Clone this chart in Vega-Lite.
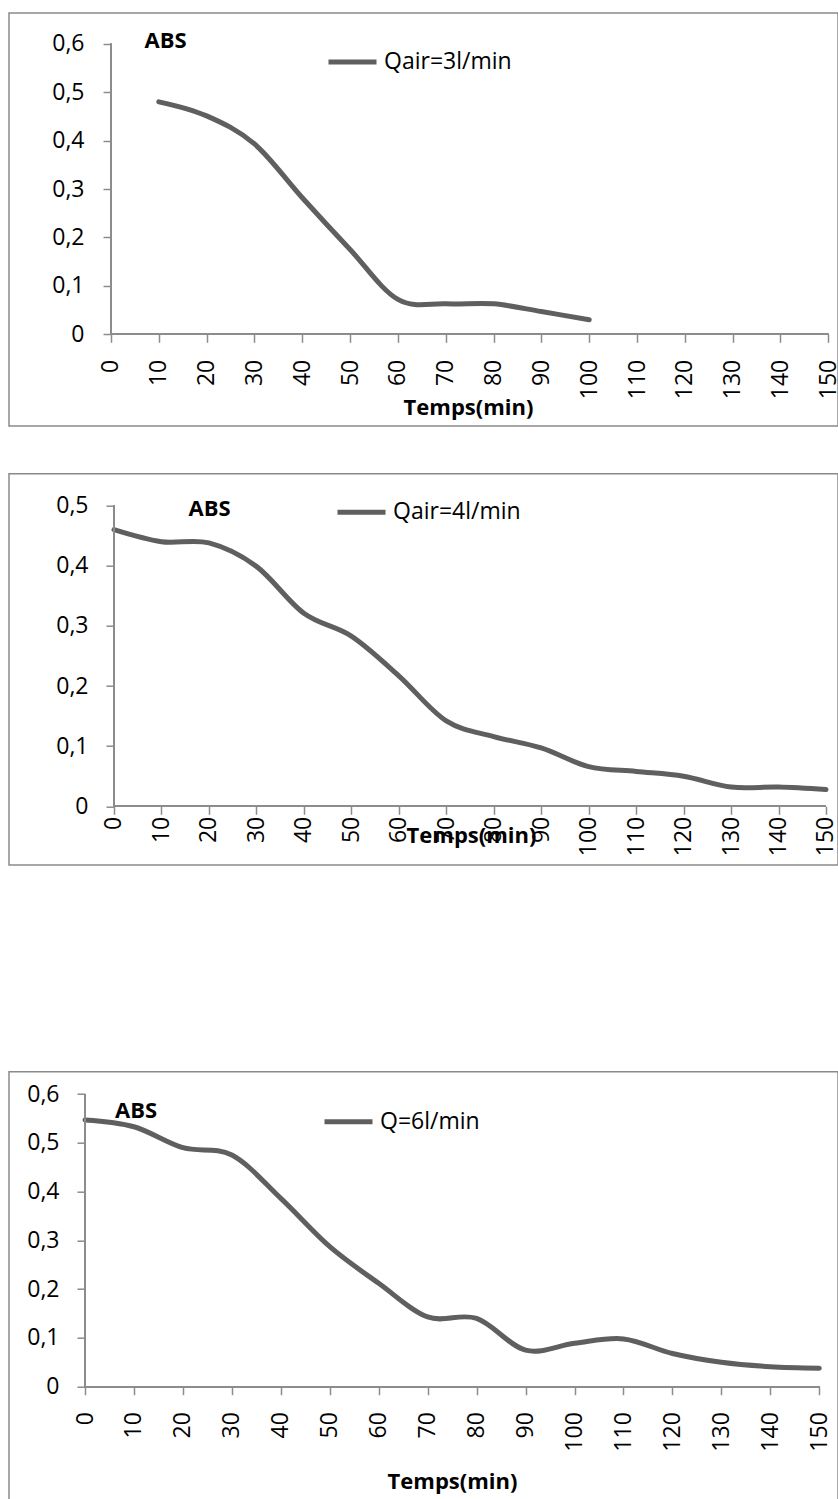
{
  "$schema": "https://vega.github.io/schema/vega-lite/v6.json",
  "autosize": {"type": "pad"},
  "padding": {"left": 8, "top": 12, "right": 0, "bottom": 0},
  "background": "white",
  "datasets": {
    "p1": [
      {"t": 10, "abs": 0.48, "serie": "Qair=3l/min"},
      {"t": 20, "abs": 0.451, "serie": "Qair=3l/min"},
      {"t": 30, "abs": 0.393, "serie": "Qair=3l/min"},
      {"t": 40, "abs": 0.282, "serie": "Qair=3l/min"},
      {"t": 50, "abs": 0.175, "serie": "Qair=3l/min"},
      {"t": 60, "abs": 0.072, "serie": "Qair=3l/min"},
      {"t": 70, "abs": 0.063, "serie": "Qair=3l/min"},
      {"t": 80, "abs": 0.063, "serie": "Qair=3l/min"},
      {"t": 90, "abs": 0.047, "serie": "Qair=3l/min"},
      {"t": 100, "abs": 0.03, "serie": "Qair=3l/min"}
    ],
    "p2": [
      {"t": 0, "abs": 0.46, "serie": "Qair=4l/min"},
      {"t": 10, "abs": 0.44, "serie": "Qair=4l/min"},
      {"t": 20, "abs": 0.438, "serie": "Qair=4l/min"},
      {"t": 30, "abs": 0.399, "serie": "Qair=4l/min"},
      {"t": 40, "abs": 0.321, "serie": "Qair=4l/min"},
      {"t": 50, "abs": 0.283, "serie": "Qair=4l/min"},
      {"t": 60, "abs": 0.217, "serie": "Qair=4l/min"},
      {"t": 70, "abs": 0.142, "serie": "Qair=4l/min"},
      {"t": 80, "abs": 0.116, "serie": "Qair=4l/min"},
      {"t": 90, "abs": 0.097, "serie": "Qair=4l/min"},
      {"t": 100, "abs": 0.066, "serie": "Qair=4l/min"},
      {"t": 110, "abs": 0.058, "serie": "Qair=4l/min"},
      {"t": 120, "abs": 0.05, "serie": "Qair=4l/min"},
      {"t": 130, "abs": 0.032, "serie": "Qair=4l/min"},
      {"t": 140, "abs": 0.032, "serie": "Qair=4l/min"},
      {"t": 150, "abs": 0.028, "serie": "Qair=4l/min"}
    ],
    "p3": [
      {"t": 0, "abs": 0.547, "serie": "Q=6l/min"},
      {"t": 10, "abs": 0.533, "serie": "Q=6l/min"},
      {"t": 20, "abs": 0.49, "serie": "Q=6l/min"},
      {"t": 30, "abs": 0.475, "serie": "Q=6l/min"},
      {"t": 40, "abs": 0.386, "serie": "Q=6l/min"},
      {"t": 50, "abs": 0.287, "serie": "Q=6l/min"},
      {"t": 60, "abs": 0.212, "serie": "Q=6l/min"},
      {"t": 70, "abs": 0.143, "serie": "Q=6l/min"},
      {"t": 80, "abs": 0.14, "serie": "Q=6l/min"},
      {"t": 90, "abs": 0.075, "serie": "Q=6l/min"},
      {"t": 100, "abs": 0.089, "serie": "Q=6l/min"},
      {"t": 110, "abs": 0.098, "serie": "Q=6l/min"},
      {"t": 120, "abs": 0.068, "serie": "Q=6l/min"},
      {"t": 130, "abs": 0.05, "serie": "Q=6l/min"},
      {"t": 140, "abs": 0.041, "serie": "Q=6l/min"},
      {"t": 150, "abs": 0.038, "serie": "Q=6l/min"}
    ]
  },
  "spacing": 204.7,
  "resolve": {"scale": {"x": "independent", "y": "independent", "color": "independent"}, "axis": {"x": "independent", "y": "independent"}, "legend": {"color": "independent"}},
  "vconcat": [
    {
      "spacing": 45.7,
      "resolve": {"scale": {"x": "independent", "y": "independent", "color": "independent"}, "axis": {"x": "independent", "y": "independent"}, "legend": {"color": "independent"}},
      "vconcat": [
        {
          "width": 829,
          "height": 413,
          "data": {"name": "p1"},
          "layer": [
            {
              "mark": {"type": "line", "interpolate": "cardinal", "strokeWidth": 5, "strokeCap": "round", "clip": false},
              "encoding": {
                "x": {"field": "t", "type": "quantitative",
                  "scale": {"domain": [-21.33, 152.03], "nice": false, "zero": false},
                  "axis": {"orient": "bottom", "offset": -91.7, "values": [0,10,20,30,40,50,60,70,80,90,100,110,120,130,140,150],
                    "labelAngle": -90, "labelAlign": "right", "labelBaseline": "middle", "labelPadding": 17,
                    "title": "Temps(min)", "titleX": 459, "titleY": 72.7, "titleAlign": "center", "titleBaseline": "middle", "titleAngle": 0}},
                "y": {"field": "abs", "type": "quantitative",
                  "scale": {"domain": [-0.1893, 0.6634], "nice": false, "zero": false},
                  "axis": {"orient": "left", "offset": -102, "values": [0,0.1,0.2,0.3,0.4,0.5,0.6], "labelPadding": 19,
                    "labelExpr": "datum.value == 0 ? '0' : replace(format(datum.value, '.1f'), '.', ',')",
                    "title": "ABS", "titleAngle": 0, "titleX": 54, "titleY": 27.3, "titleAlign": "center", "titleBaseline": "middle"}},
                "color": {"field": "serie", "type": "nominal", "scale": {"range": ["#5f5f5f"]},
                  "legend": {"orient": "none", "legendX": 317, "legendY": 22.5}}
              }
            },
            {"mark": {"type": "rule", "color": "#8c8c8c", "strokeWidth": 1.5},
             "encoding": {"x": {"datum": 0}, "x2": {"datum": 150}, "y": {"datum": 0}}},
            {"mark": {"type": "rule", "color": "#8c8c8c", "strokeWidth": 1.5},
             "encoding": {"x": {"datum": 0}, "y": {"datum": 0}, "y2": {"datum": 0.6}}}
          ]
        },
        {
          "width": 829,
          "height": 391.3,
          "data": {"name": "p2"},
          "layer": [
            {
              "mark": {"type": "line", "interpolate": "cardinal", "strokeWidth": 5, "strokeCap": "round", "clip": false},
              "encoding": {
                "x": {"field": "t", "type": "quantitative",
                  "scale": {"domain": [-22.12, 152.53], "nice": false, "zero": false},
                  "axis": {"orient": "bottom", "offset": -58.7, "values": [0,10,20,30,40,50,60,70,80,90,100,110,120,130,140,150],
                    "labelAngle": -90, "labelAlign": "right", "labelBaseline": "middle", "labelPadding": 2,
                    "title": "Temps(min)", "titleX": 462, "titleY": 28.7, "titleAlign": "center", "titleBaseline": "middle", "titleAngle": 0}},
                "y": {"field": "abs", "type": "quantitative",
                  "scale": {"domain": [-0.0976, 0.5531], "nice": false, "zero": false},
                  "axis": {"orient": "left", "offset": -105, "values": [0,0.1,0.2,0.3,0.4,0.5], "labelPadding": 18,
                    "labelExpr": "datum.value == 0 ? '0' : replace(format(datum.value, '.1f'), '.', ',')",
                    "title": "ABS", "titleAngle": 0, "titleX": 95, "titleY": 34.3, "titleAlign": "center", "titleBaseline": "middle"}},
                "color": {"field": "serie", "type": "nominal", "scale": {"range": ["#5f5f5f"]},
                  "legend": {"orient": "none", "legendX": 326, "legendY": 12.1}}
              }
            },
            {"mark": {"type": "rule", "color": "#8c8c8c", "strokeWidth": 1.5},
             "encoding": {"x": {"datum": 0}, "x2": {"datum": 150}, "y": {"datum": 0}}},
            {"mark": {"type": "rule", "color": "#8c8c8c", "strokeWidth": 1.5},
             "encoding": {"x": {"datum": 0}, "y": {"datum": 0}, "y2": {"datum": 0.5}}}
          ]
        }
      ]
    },
    {
      "width": 829,
      "height": 431.3,
      "data": {"name": "p3"},
      "layer": [
        {
          "mark": {"type": "line", "interpolate": "cardinal", "strokeWidth": 5, "strokeCap": "round", "clip": false},
          "encoding": {
            "x": {"field": "t", "type": "quantitative",
              "scale": {"domain": [-15.53, 153.82], "nice": false, "zero": false},
              "axis": {"orient": "bottom", "offset": -116.3, "values": [0,10,20,30,40,50,60,70,80,90,100,110,120,130,140,150],
                "labelAngle": -90, "labelAlign": "right", "labelBaseline": "middle", "labelPadding": 17,
                "title": "Temps(min)", "titleX": 443, "titleY": 95, "titleAlign": "center", "titleBaseline": "middle", "titleAngle": 0}},
            "y": {"field": "abs", "type": "quantitative",
              "scale": {"domain": [-0.2384, 0.6458], "nice": false, "zero": false},
              "axis": {"orient": "left", "offset": -76, "values": [0,0.1,0.2,0.3,0.4,0.5,0.6], "labelPadding": 18,
                "labelExpr": "datum.value == 0 ? '0' : replace(format(datum.value, '.1f'), '.', ',')",
                "title": "ABS", "titleAngle": 0, "titleX": 50.5, "titleY": 38.3, "titleAlign": "center", "titleBaseline": "middle"}},
            "color": {"field": "serie", "type": "nominal", "scale": {"range": ["#5f5f5f"]},
              "legend": {"orient": "none", "legendX": 313, "legendY": 23.5}}
          }
        },
        {"mark": {"type": "rule", "color": "#8c8c8c", "strokeWidth": 1.5},
         "encoding": {"x": {"datum": 0}, "x2": {"datum": 150}, "y": {"datum": 0}}},
        {"mark": {"type": "rule", "color": "#8c8c8c", "strokeWidth": 1.5},
         "encoding": {"x": {"datum": 0}, "y": {"datum": 0}, "y2": {"datum": 0.6}}}
      ]
    }
  ],
  "config": {
    "font": "Open Sans",
    "view": {"stroke": "#8a8a8a", "strokeWidth": 1.5},
    "axis": {
      "grid": false, "domain": false,
      "tickColor": "#8c8c8c", "tickWidth": 1.5, "tickSize": 8,
      "labelFont": "Open Sans", "labelFontSize": 23, "labelColor": "#000000",
      "labelFlush": false, "labelOverlap": false, "labelBound": false,
      "titleFont": "Open Sans", "titleFontSize": 22, "titleFontWeight": "bold", "titleColor": "#000000", "titlePadding": 0
    },
    "legend": {
      "title": null, "padding": 0, "symbolType": "stroke", "symbolSize": 2304, "symbolStrokeWidth": 5,
      "labelFont": "Open Sans", "labelFontSize": 23, "labelColor": "#000000", "labelOffset": 5, "labelLimit": 400
    }
  }
}
